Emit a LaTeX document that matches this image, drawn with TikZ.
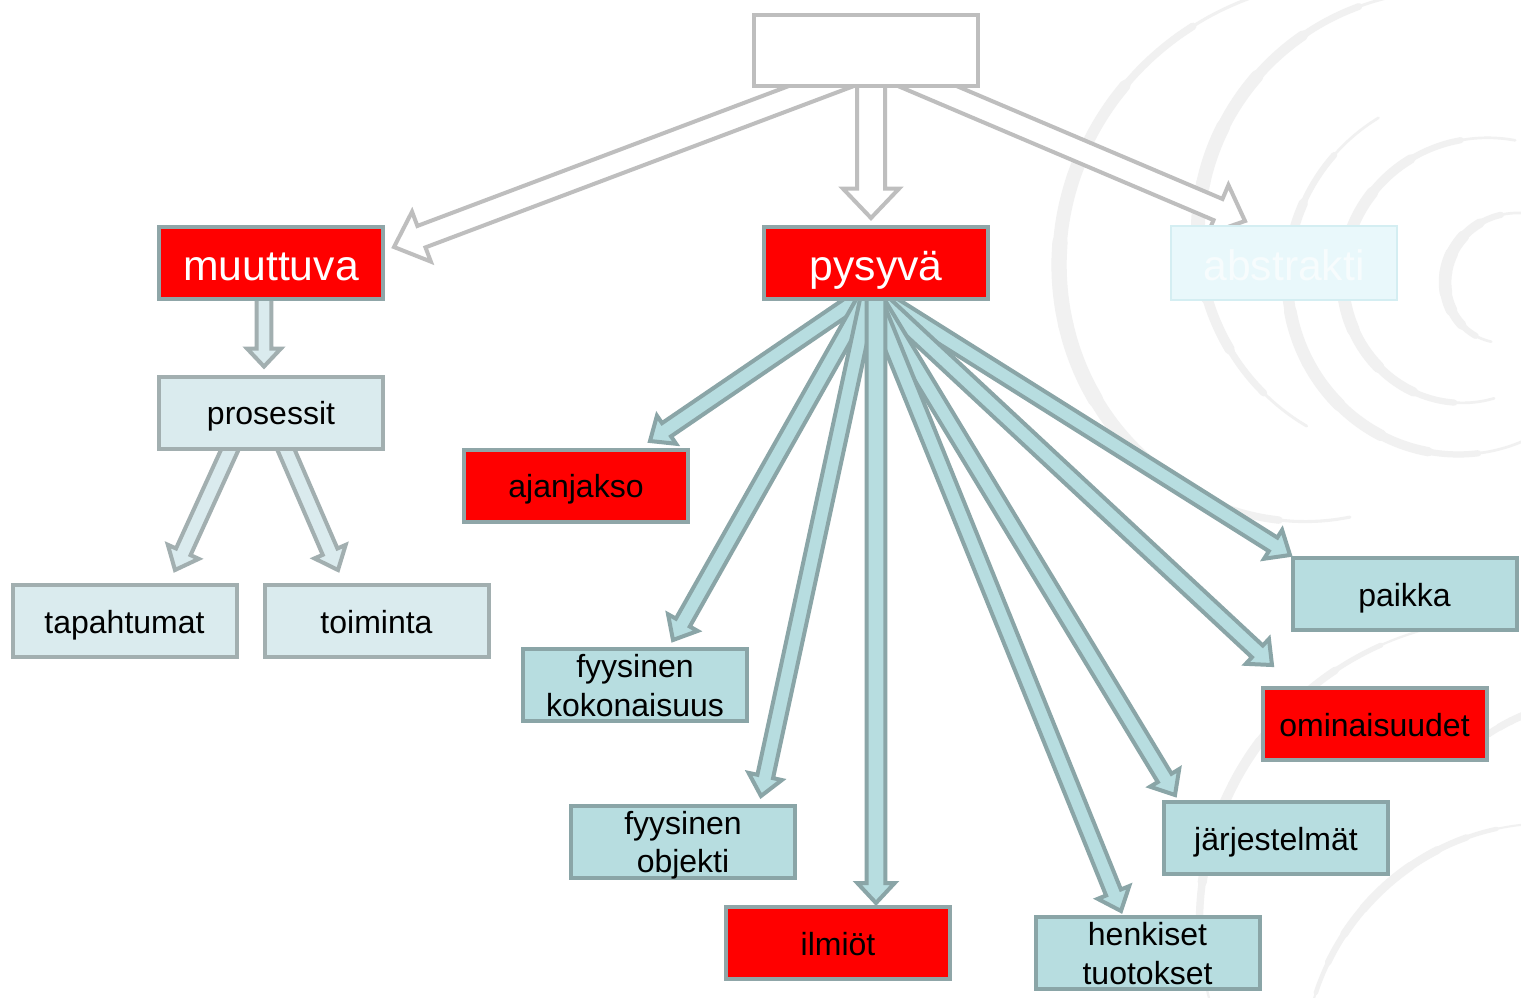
\documentclass[tikz,border=0pt]{standalone}
\usepackage{fontspec}
\setmainfont{Liberation Sans}
\usetikzlibrary{calc}
\definecolor{redfill}{HTML}{FF0000}
\definecolor{redline}{HTML}{8FA6A8}
\definecolor{bluefill}{HTML}{B7DDE0}
\definecolor{blueline}{HTML}{8AA5A7}
\definecolor{palefill}{HTML}{DAEBEE}
\definecolor{paleline}{HTML}{A2AFB0}
\definecolor{topline}{HTML}{BEBEBE}
\definecolor{absfill}{HTML}{E9F8FB}
\definecolor{absline}{HTML}{D4EEF2}
\definecolor{abstext}{HTML}{F7FCFD}
\definecolor{swirlcol}{HTML}{F1F1F1}
\pgfdeclarelayer{swirl}
\pgfdeclarelayer{arrows}
\pgfsetlayers{swirl,arrows,main}
% block arrow: style, from, to, shaft half width, head half width, head length
\newcommand{\blkarrow}[6]{%
  \coordinate (hb) at ($(#3)!#6!(#2)$);
  \path[#1] ($(#2)!#4!90:(#3)$) -- ($(hb)!#4!-90:(#2)$) -- ($(hb)!#5!-90:(#2)$)
    -- (#3) -- ($(hb)!#5!90:(#2)$) -- ($(hb)!#4!90:(#2)$) -- ($(#2)!#4!-90:(#3)$) -- cycle;
}
% tapered spiral stroke: cx, cy, angle from, angle to, radius from, radius to, max width (pt)
\newcommand{\swirlstroke}[7]{%
  \foreach \k in {0,...,9}{%
    \pgfmathsetmacro{\ta}{#3+(#4-#3)*\k/10}%
    \pgfmathsetmacro{\tb}{#3+(#4-#3)*(\k+1)/10}%
    \pgfmathsetmacro{\wd}{#7*sin(180*(\k+0.5)/10)+0.6}%
    \draw[draw=swirlcol, line width=\wd pt, line cap=round]
      plot[variable=\t, domain=\ta:\tb, samples=6, smooth]
      ({#1+(#5+(#6-#5)*(\t-#3)/(#4-#3))*cos(\t)}, {#2-(#5+(#6-#5)*(\t-#3)/(#4-#3))*sin(\t)});
  }%
}
\newcommand{\tline}[1]{\raisebox{0pt}[21.5pt][3.5pt]{#1}}
\tikzset{
  box/.style={draw, line width=3pt, minimum width=168pt, minimum height=54pt,
    inner sep=0pt, align=center, font=\fontsize{24pt}{29pt}\selectfont},
  onebox/.style={box, text height=21.5pt, text depth=3.5pt},
  redbox/.style={onebox, fill=redfill, draw=redline},
  bluebox/.style={onebox, fill=bluefill, draw=blueline},
  bluebox2/.style={box, fill=bluefill, draw=blueline},
  palebox/.style={onebox, fill=palefill, draw=paleline},
  bigtext/.style={font=\fontsize{32pt}{38pt}\selectfont, text=white, text height=29pt, text depth=3.5pt},
  toparrow/.style={draw=topline, fill=white, line width=3pt},
  bluearrow/.style={draw=blueline, fill=bluefill, line width=3pt},
  palearrow/.style={draw=paleline, fill=palefill, line width=3pt}
}
\begin{document}
\begin{tikzpicture}[x=0.75pt, y=-0.75pt]
\useasboundingbox (0,0) rectangle (1521,997);
\begin{pgfonlayer}{swirl}
  \fill[white] (0,0) rectangle (1521,997);
  \swirlstroke{1330}{290}{100}{275}{305}{228}{11}
  \swirlstroke{1430}{250}{92}{235}{258}{215}{10}
  \swirlstroke{1470}{290}{118}{290}{195}{160}{9}
  \swirlstroke{1475}{290}{75}{280}{155}{110}{9}
  \swirlstroke{1510}{290}{80}{250}{78}{55}{9}
  \swirlstroke{1500}{930}{103}{200}{310}{298}{7}
  \swirlstroke{1560}{1060}{98}{172}{238}{255}{6}
  \swirlstroke{1600}{900}{98}{135}{200}{200}{5}
\end{pgfonlayer}

% nodes
\node[box, draw=topline, fill=white, minimum height=53pt] (top) at (866,50.5) {};
\node[redbox, bigtext] (muut) at (271,263) {muuttuva};
\node[redbox, bigtext] (pysy) at (876,263) {pysyvä};
\node[onebox, fill=absfill, draw=absline, line width=1.5pt, bigtext, text=abstext, minimum width=169pt, minimum height=55pt] (abst) at (1284,263) {abstrakti};
\node[palebox] (pros) at (271,412.5) {prosessit};
\node[palebox] (tapa) at (124.5,621) {tapahtumat};
\node[palebox] (toim) at (376.5,621) {toiminta};
\node[redbox] (ajan) at (576,485.5) {ajanjakso};
\node[bluebox2] (fyko) at (635,685) {\tline{fyysinen}\\\tline{kokonaisuus}};
\node[bluebox2] (fyob) at (683,841.5) {\tline{fyysinen}\\\tline{objekti}};
\node[redbox] (ilmi) at (838,943) {ilmiöt};
\node[bluebox2] (henk) at (1147.5,953) {\tline{henkiset}\\\tline{tuotokset}};
\node[bluebox] (jarj) at (1276,838) {järjestelmät};
\node[redbox] (omin) at (1374.5,724) {ominaisuudet};
\node[bluebox] (paik) at (1404.5,594) {paikka};

% connector end points
\coordinate (topL) at ($(top.south)+(-15,-13)$);
\coordinate (topM) at ($(top.south)+(5,-13)$);
\coordinate (topR) at ($(top.south)+(35,-13)$);
\coordinate (inMuut) at (394,247);
\coordinate (inPysy) at (871,218);
\coordinate (inAbst) at (1245,221);
\coordinate (muS) at ($(muut.south)+(-7,-10)$);
\coordinate (inPros) at ($(pros.north)+(-7,-8)$);
\coordinate (prL) at ($(pros.south)+(-37,-10)$);
\coordinate (prR) at ($(pros.south)+(11,-10)$);
\coordinate (inTapa) at (175,570);
\coordinate (inToim) at (338,570);
\coordinate (pyS) at ($(pysy.south)+(-6,-10)$);
\coordinate (pyS2) at ($(pysy.south)+(0,-10)$);
\coordinate (inAjan) at (650,441);
\coordinate (inFyko) at (673,640);
\coordinate (inFyob) at (761,796);
\coordinate (inIlmi) at ($(ilmi.north)+(38,-2)$);
\coordinate (inHenk) at (1121,911);
\coordinate (inJarj) at (1175,795);
\coordinate (inOmin) at (1272,665);
\coordinate (inPaik) at (1290,555);

\begin{pgfonlayer}{arrows}
  \blkarrow{toparrow}{topL}{inMuut}{8.6pt}{20pt}{22pt}
  \blkarrow{toparrow}{topM}{inPysy}{10.5pt}{21pt}{22pt}
  \blkarrow{toparrow}{topR}{inAbst}{8.6pt}{20pt}{22pt}
  \blkarrow{palearrow}{muS}{inPros}{5.5pt}{12.75pt}{13.5pt}
  \blkarrow{palearrow}{prL}{inTapa}{6pt}{12.75pt}{15pt}
  \blkarrow{palearrow}{prR}{inToim}{6pt}{12.75pt}{15pt}
  \blkarrow{bluearrow}{pyS}{inPaik}{6pt}{12.75pt}{15pt}
  \blkarrow{bluearrow}{pyS}{inOmin}{6pt}{12.75pt}{15pt}
  \blkarrow{bluearrow}{pyS}{inJarj}{6pt}{12.75pt}{15pt}
  \blkarrow{bluearrow}{pyS}{inHenk}{6pt}{12.75pt}{15pt}
  \blkarrow{bluearrow}{pyS}{inAjan}{6pt}{12.75pt}{15pt}
  \blkarrow{bluearrow}{pyS}{inFyko}{6pt}{12.75pt}{15pt}
  \blkarrow{bluearrow}{pyS}{inFyob}{6pt}{12.75pt}{15pt}
  \blkarrow{bluearrow}{pyS2}{inIlmi}{7pt}{14pt}{15pt}
\end{pgfonlayer}
\end{tikzpicture}
\end{document}
